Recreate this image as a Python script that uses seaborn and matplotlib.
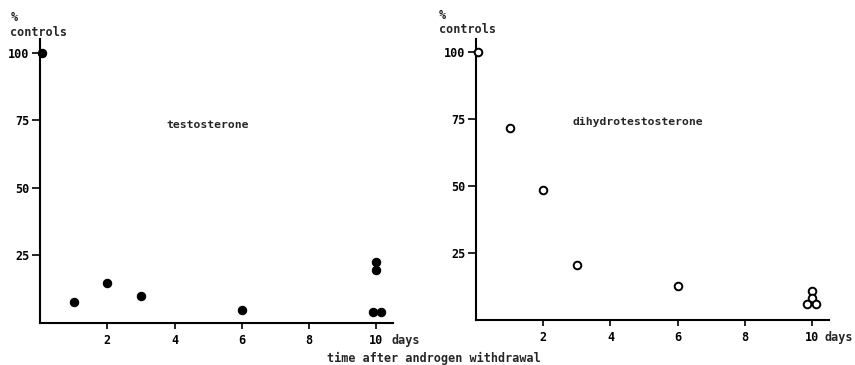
import matplotlib
matplotlib.use("Agg")
import matplotlib.pyplot as plt
import seaborn as sns
import pandas as pd

# Data
t_days = [0.05, 1, 2, 3, 6, 10, 10, 9.9, 10.15]
t_vals = [100, 7.8, 14.8, 10, 4.8, 22.6, 19.6, 4.1, 4.1]

d_days = [0.05, 1, 2, 3, 6, 10, 10, 9.85, 10.1]
d_vals = [100, 71.7, 48.7, 20.4, 12.6, 10.8, 8.2, 6.0, 6.0]

x_ticks = [2, 4, 6, 8, 10]
y_ticks = [25, 50, 75, 100]

sns.set_style("ticks")
plt.rcParams['font.family'] = ['DejaVu Sans Mono', 'DejaVu Sans']
plt.rcParams['font.weight'] = 'bold'

FS = 8.5

fig = plt.figure(figsize=(8.55, 3.65), dpi=100)
ax1 = fig.add_axes([0.0468, 0.115, 0.413, 0.777])
ax2 = fig.add_axes([0.5567, 0.123, 0.413, 0.771])

df_t = pd.DataFrame({"day": t_days, "val": t_vals})
df_d = pd.DataFrame({"day": d_days, "val": d_vals})

sns.scatterplot(data=df_t, x="day", y="val", ax=ax1, color="black", s=36,
                edgecolor="black", linewidth=0.8, clip_on=False, zorder=3)
sns.scatterplot(data=df_d, x="day", y="val", ax=ax2, facecolor="white", s=30,
                edgecolor="black", linewidth=1.4, clip_on=False, zorder=3)

for ax, name, nx, ny, dx in [(ax1, "testosterone", 3.77, 73.5, 11.0),
                             (ax2, "dihydrotestosterone", 2.88, 74, 9.0)]:
    ax.set_xlim(0, 10.5)
    ax.set_ylim(0, 105)
    ax.set_xticks(x_ticks)
    ax.set_yticks(y_ticks)
    ax.set_xticklabels([str(v) for v in x_ticks], fontsize=FS, fontweight='bold')
    ax.set_yticklabels([str(v) for v in y_ticks], fontsize=FS, fontweight='bold')
    ax.tick_params(axis="x", direction="out", length=4, width=1.2, colors="black", pad=4)
    ax.tick_params(axis="y", direction="out", length=6, width=1.2, colors="black", pad=1.5)
    sns.despine(ax=ax)
    for sp in ["left", "bottom"]:
        ax.spines[sp].set_linewidth(1.5)
        ax.spines[sp].set_color("black")
    ax.set_xlabel("")
    ax.set_ylabel("")
    ax.text(nx, ny, name, fontsize=8.2, fontweight='bold', ha="left", va="center")
    ax.annotate("days", xy=(10, 0), xycoords="data", xytext=(dx, -8),
                textcoords="offset points", fontsize=FS, fontweight='bold',
                ha="left", va="top", annotation_clip=False)

fig.text(0.012, 0.951, "%", fontsize=FS, fontweight='bold', ha="left", va="center")
fig.text(0.012, 0.912, "controls", fontsize=FS, fontweight='bold', ha="left", va="center")
fig.text(0.513, 0.957, "%", fontsize=FS, fontweight='bold', ha="left", va="center")
fig.text(0.513, 0.918, "controls", fontsize=FS, fontweight='bold', ha="left", va="center")

fig.text(0.507, 0.019, "time after androgen withdrawal", fontsize=FS, fontweight='bold',
         ha="center", va="center")

fig.savefig("out.png", dpi=100)
